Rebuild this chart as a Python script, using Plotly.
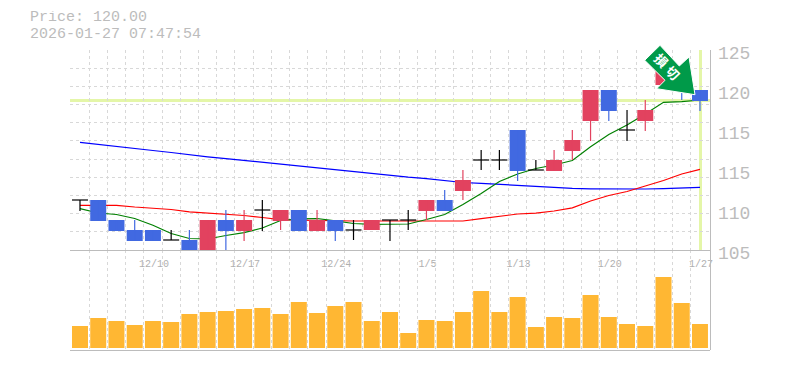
import plotly.graph_objects as go

dates_labels = ["12/10", "12/17", "12/24", "1/5", "1/13", "1/20", "1/27"]
label_bars = [4, 9, 14, 19, 24, 29, 34]
price_ticks = [125, 121, 117, 113, 109, 105]
price_text = ["125", "120", "115", "115", "110", "105"]

opens = [110, 110, 108, 107, 107, 106, 106, 105, 108, 106.9, 109, 107.9, 109, 106.9, 108, 107, 107, 108, 108,
         108.9, 110, 110.9, 114, 114, 117, 113, 112.9, 114.9, 117.9, 121, 117, 117.9, 121.5, 122, 121]
closes = [110, 107.9, 106.9, 105.9, 105.9, 106, 105, 108, 106.9, 108, 109, 109, 106.9, 108, 106.9, 107, 108, 108, 108,
          110, 108.9, 112, 114, 114, 112.9, 113, 114, 116, 121, 118.9, 117, 119, 123, 120.9, 119.9]
highs = [110, 110, 108, 108, 107, 107, 107, 108, 109, 109, 110, 109, 109, 109, 108, 108, 108, 108, 109,
         110, 111, 113, 115, 115, 117, 114, 115, 117, 121, 121, 119, 120, 123, 122, 121]
lows = [108.9, 107.9, 106.9, 105.9, 105.9, 106, 105, 105, 105, 105.9, 106.9, 107, 106.9, 106.9, 105.9, 106, 107, 105.9, 107,
        108, 108.9, 110, 113, 113, 111.9, 113, 112.9, 114, 115.9, 117.9, 115.9, 116.9, 121.5, 120, 118.9]
ma_blue = [115.77, 115.55, 115.35, 115.17, 114.95, 114.75, 114.52, 114.32, 114.14, 113.95, 113.77, 113.6, 113.4, 113.2,
           113.02, 112.82, 112.64, 112.46, 112.28, 112.14, 111.97, 111.75, 111.67, 111.57, 111.43, 111.3, 111.22,
           111.16, 111.12, 111.1, 111.07, 111.1, 111.13, 111.2, 111.27]
ma_red = [109.47, 109.47, 109.47, 109.3, 109.17, 109.05, 108.82, 108.7, 108.63, 108.45, 108.25, 108.03, 107.98, 107.93,
          107.9, 107.9, 107.9, 107.9, 107.9, 107.88, 107.87, 107.9, 108.13, 108.4, 108.6, 108.68, 108.9, 109.22,
          109.9, 110.45, 110.85, 111.4, 111.95, 112.6, 113.07]
ma_green = [109.13, 108.7, 108.55, 108.15, 107.47, 106.65, 106.15, 106.1, 106.45, 106.73, 107.2, 107.95, 108.12, 108.15,
            107.92, 107.65, 107.57, 107.57, 107.6, 108.05, 108.55, 109.55, 110.65, 111.85, 112.6, 113.15, 113.5,
            113.95, 115.33, 116.55, 117.5, 118.6, 119.77, 119.83, 120]
volumes = [2200, 3000, 2700, 2300, 2700, 2600, 3400, 3600, 3700, 3900, 4000, 3400, 4600, 3500, 4200, 4600, 2700, 3600,
           1500, 2800, 2700, 3600, 5700, 3600, 5100, 2100, 3100, 3000, 5300, 3100, 2400, 2200, 7100, 4500, 2400]
current_price = 120
arrow_px = [(660, 45.3), (679.3, 66), (689, 57), (695, 94.7), (656.7, 88.7), (665, 80.3), (644.7, 60.3)]

W, H = 785, 370
L, R, T, B = 70, 710, 50, 350
XR = [-0.548, 34.55]
GREY = "#bcbcbc"
GRID = "#d8d8d8"
FONT = "Liberation Mono"
RED = "#e2425f"
BLUE = "#4169e1"
n = len(opens)
xs = list(range(n))
def pap(x, y):
    return (x - L) / (R - L), (B - y) / (B - T)

up = [i for i in xs if closes[i] > opens[i]]
down = [i for i in xs if closes[i] < opens[i]]
doji = [i for i in xs if closes[i] == opens[i]]

def wicks(idx):
    wx, wy = [], []
    for i in idx:
        wx += [i, i, None]
        wy += [lows[i], highs[i], None]
    return wx, wy

fig = go.Figure()
for vals, color in ((ma_blue, "#0000ff"), (ma_red, "#ff0000"), (ma_green, "#008000")):
    fig.add_trace(go.Scatter(x=xs, y=vals, mode="lines", line=dict(color=color, width=1.2),
                             showlegend=False, hoverinfo="skip"))
BW = 16 / 18.235
for idx, color in ((up, RED), (down, BLUE)):
    fig.add_trace(go.Bar(x=idx, base=[min(opens[i], closes[i]) for i in idx],
                         y=[abs(closes[i] - opens[i]) for i in idx], width=BW,
                         marker=dict(color=color, line=dict(width=0)), xaxis="x3", yaxis="y3", showlegend=False))
    wx, wy = wicks(idx)
    fig.add_trace(go.Scatter(x=wx, y=wy, mode="lines", line=dict(color=color, width=1.2),
                             xaxis="x3", yaxis="y3", showlegend=False))
wx, wy = wicks(doji)
for i in doji:
    wx += [i - BW / 2, i + BW / 2, None]
    wy += [opens[i], closes[i], None]
fig.add_trace(go.Scatter(x=wx, y=wy, mode="lines", line=dict(color="#000000", width=1.2),
                         xaxis="x3", yaxis="y3", showlegend=False))
fig.add_trace(go.Bar(x=xs, y=volumes, width=BW, marker=dict(color="#ffb733", line=dict(width=0)),
                     xaxis="x2", yaxis="y2", showlegend=False))

grid_x = [i - 0.5 for i in xs]
grid_y = [125 - k * 20 / 11 for k in range(12)]
xgrid = dict(showgrid=True, tickmode="array", tickvals=grid_x, gridcolor=GRID, griddash="3px,3px", gridwidth=1, ticks="")
fig.update_layout(
    width=W, height=H, autosize=False, margin=dict(l=L, r=W - R, t=T, b=H - B),
    paper_bgcolor="white", plot_bgcolor="white", barmode="overlay", showlegend=False,
    xaxis=dict(domain=[0, 1], range=XR, anchor="y", automargin=False, showgrid=False, zeroline=False, showline=False, ticks="",
               tickmode="array", tickvals=label_bars, ticktext=dates_labels, ticklabelstandoff=6, tickangle=0,
               ticklabelshift=1, tickfont=dict(family=FONT, size=10, color="#b0b0b0"), minor=xgrid),
    yaxis=dict(domain=[1 / 3, 1], range=[105, 125], side="right", anchor="x", automargin=False, showgrid=False, zeroline=False,
               showline=False, ticks="", tickmode="array", tickvals=price_ticks, ticktext=price_text,
               ticklabelstandoff=7, ticklabelshift=3, tickfont=dict(family=FONT, size=18, color=GREY),
               minor=dict(showgrid=True, tickmode="array", tickvals=grid_y, gridcolor=GRID, griddash="3px,3px", gridwidth=1, ticks="")),
    xaxis2=dict(domain=[0, 1], range=XR, anchor="y2", automargin=False, showgrid=False, zeroline=False, showticklabels=False, ticks="", minor=xgrid),
    yaxis2=dict(domain=[0, 1 / 3], range=[-200, 9800], anchor="x2", automargin=False, showgrid=False, zeroline=False,
                showticklabels=False, ticks=""),
    xaxis3=dict(range=XR, overlaying="x", anchor="y3", visible=False, automargin=False),
    yaxis3=dict(range=[105, 125], overlaying="y", anchor="x3", visible=False, automargin=False),
)

def hline(y, width=1):
    fig.add_shape(type="line", xref="paper", yref="paper", x0=0, x1=1, y0=pap(0, y)[1], y1=pap(0, y)[1],
                  line=dict(color=GREY, width=width), layer="above")

hline(250.5)
hline(350.5)
fig.add_shape(type="line", xref="paper", yref="paper", x0=pap(710.5, 0)[0], x1=pap(710.5, 0)[0], y0=0, y1=1,
              line=dict(color=GREY, width=1), layer="above")
fig.add_shape(type="line", xref="paper", yref="y", x0=0, x1=1, y0=current_price - 0.05, y1=current_price - 0.05,
              line=dict(color="#e4f6a8", width=3), layer="below")
fig.add_shape(type="line", xref="x", yref="y", x0=xs[-1] + 0.03, x1=xs[-1] + 0.03, y0=105, y1=125,
              line=dict(color="#e4f6a8", width=3), layer="below")

path = "M " + " L ".join("%.5f,%.5f" % pap(x, y) for x, y in arrow_px) + " Z"
fig.add_shape(type="path", xref="paper", yref="paper", path=path, fillcolor="#009a49",
              line=dict(color="#ffffff", width=1), layer="above")

for txt, (x, y) in (("損", (661.7, 60.3)), ("切", (673, 72))):
    ax, ay = pap(x, y)
    fig.add_annotation(text=txt, x=ax, y=ay, xref="paper", yref="paper", showarrow=False, textangle=45,
                       xanchor="center", yanchor="middle",
                       font=dict(family="Noto Sans CJK JP", size=13, color="white", weight="bold"))

for txt, y in (("Price: %.2f" % current_price, 17.5), ("2026-01-27 07:47:54", 34)):
    ax, ay = pap(28, y)
    fig.add_annotation(text=txt, x=ax, y=ay, xref="paper", yref="paper", showarrow=False, xanchor="left",
                       yanchor="middle", height=13, font=dict(family=FONT, size=15, color=GREY))

fig.write_html("out.html", config={"displayModeBar": False}, post_script="document.body.style.margin='0';")
